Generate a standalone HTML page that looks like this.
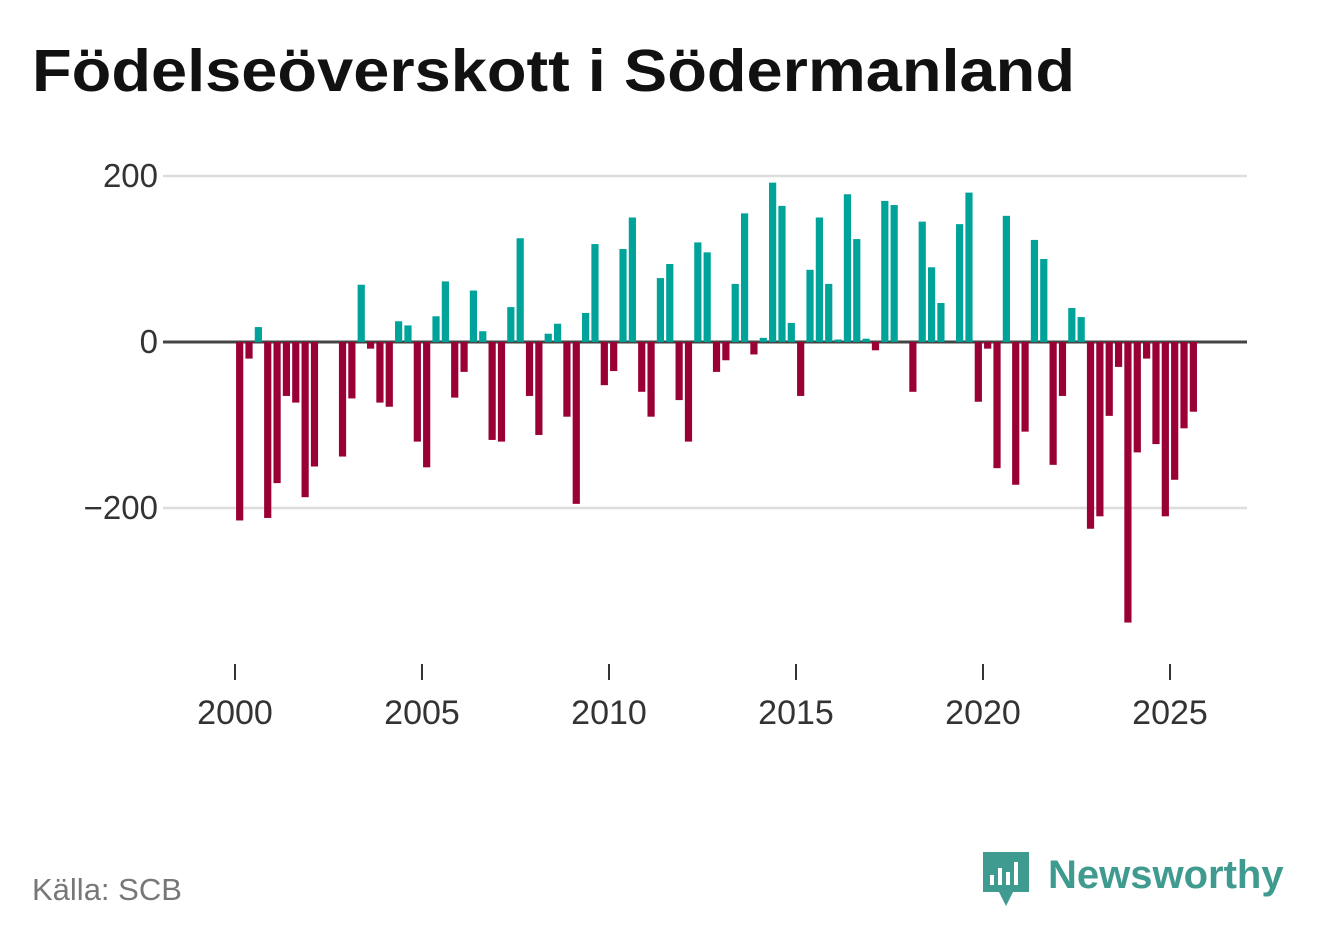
<!DOCTYPE html>
<html><head><meta charset="utf-8"><style>
body{margin:0;background:#fff;width:1322px;height:939px;overflow:hidden;font-family:"Liberation Sans","DejaVu Sans",sans-serif}
</style></head><body>
<svg width="1322" height="939">
<text x="32" y="91" font-size="59" font-weight="bold" fill="#111" textLength="1043" lengthAdjust="spacingAndGlyphs">Födelseöverskott i Södermanland</text>
<g id="grid"></g><g id="bars"></g><g id="xaxis"></g>
<text x="32" y="900" font-size="31" fill="#777">Källa: SCB</text>
<g>
<path d="M983 852 h46 v40 h-16 l-7 14 l-7 -14 h-16 z" fill="#3f9b8f"/>
<rect x="990" y="875" width="4" height="10" fill="#fff"/><rect x="998" y="868" width="4" height="17" fill="#fff"/><rect x="1006" y="872" width="4" height="13" fill="#fff"/><rect x="1014" y="862" width="4" height="23" fill="#fff"/>
<text x="1048" y="888" font-size="40" font-weight="bold" fill="#3f9b8f">Newsworthy</text>
</g>
</svg>
<script>
const values=[-215,-20,18,-212,-170,-65,-73,-187,-150,0,0,-138,-68,69,-8,-73,-78,25,20,-120,-151,31,73,-67,-36,62,13,-118,-120,42,125,-65,-112,10,22,-90,-195,35,118,-52,-35,112,150,-60,-90,77,94,-70,-120,120,108,-36,-22,70,155,-15,5,192,164,23,-65,87,150,70,3,178,124,4,-10,170,165,0,-60,145,90,47,0,142,180,-72,-8,-152,152,-172,-108,123,100,-148,-65,41,30,-225,-210,-89,-30,-338,-133,-20,-123,-210,-166,-104,-84];
const startYear=2000;
const yTicks=[200,0,-200];
const xTicks=[2000,2005,2010,2015,2020,2025];
const NS="http://www.w3.org/2000/svg";
const y=v=>342-v*0.83;
const x=yr=>235+(yr-2000)*37.4;
function mk(t,a,p){const e=document.createElementNS(NS,t);for(const k in a)e.setAttribute(k,a[k]);p.appendChild(e);return e;}
const g=document.getElementById('grid'),b=document.getElementById('bars'),xa=document.getElementById('xaxis');
yTicks.forEach(t=>{
 const l=mk('line',{x1:163,x2:1247,y1:y(t),y2:y(t),stroke:t===0?'#444':'#ddd','stroke-width':t===0?3:2.5},g);
 
 
 const tx=mk('text',{x:158,y:y(t)+11,'text-anchor':'end','font-size':33,fill:'#333'},g);
 tx.textContent=t<0?'\u2212'+Math.abs(t):t;
 
 
});
values.forEach((v,i)=>{
 const cx=x(startYear+i/4+0.125);
 const r=mk('rect',{x:cx-3.6,width:7.2,y:Math.min(y(v),342),height:Math.abs(y(v)-342),fill:v>=0?'#00a39a':'#9a0036'},b);
 
 
});
xTicks.forEach(t=>{
 const l=mk('line',{x1:x(t),x2:x(t),y1:664,y2:680,stroke:'#333','stroke-width':2},xa);
 
 
 const tx=mk('text',{x:x(t),y:724,'text-anchor':'middle','font-size':34,fill:'#333'},xa);
 tx.textContent=t;
 
 
});
</script>
</body></html>
